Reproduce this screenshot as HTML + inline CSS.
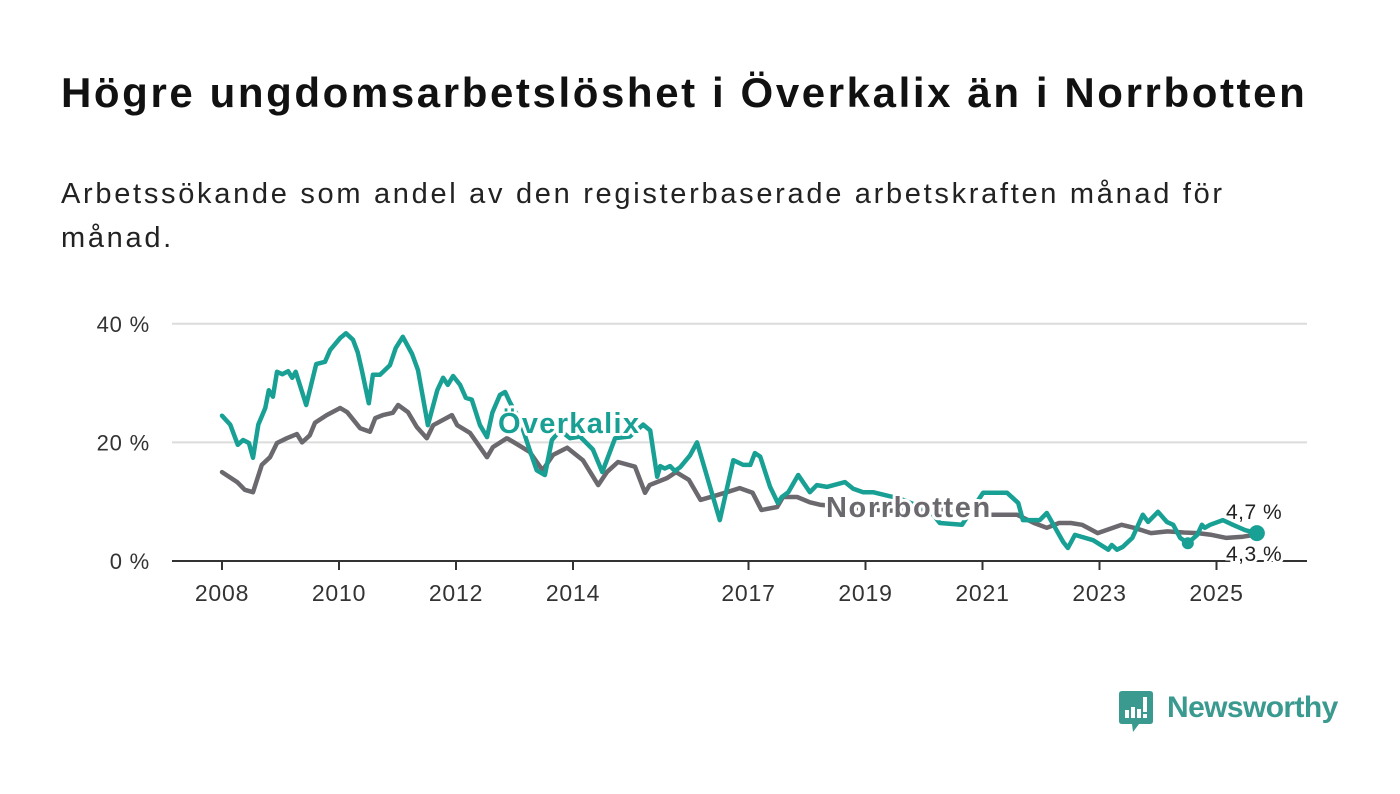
<!DOCTYPE html>
<html><head><meta charset="utf-8">
<style>
body{margin:0;background:#fff;width:1400px;height:794px;overflow:hidden;font-family:"Liberation Sans",sans-serif;}
#title{position:absolute;left:61px;top:69px;font-size:42px;font-weight:bold;color:#111;margin:0;letter-spacing:2.6px;white-space:nowrap}
#sub{position:absolute;left:61px;top:172px;width:1250px;font-size:29px;line-height:44px;color:#222;margin:0;letter-spacing:2.7px}
svg{position:absolute;left:0;top:0}
</style></head>
<body>
<h1 id="title">Högre ungdomsarbetslöshet i Överkalix än i Norrbotten</h1>
<p id="sub">Arbetssökande som andel av den registerbaserade arbetskraften månad för<br>månad.</p>
<svg id="chart" width="1400" height="794"></svg>
<div style="position:absolute;left:1119px;top:691px;">
<svg width="36" height="44" style="position:absolute;left:0;top:0">
<path d="M3 0 H31 Q34 0 34 3 V30 Q34 33 31 33 H20 L14 41 L13 33 H3 Q0 33 0 30 V3 Q0 0 3 0Z" fill="#3a9a90"/>
<rect x="6" y="19" width="4" height="8" fill="#fff"/><rect x="12" y="16" width="4" height="11" fill="#fff"/><rect x="18" y="18" width="4" height="9" fill="#fff"/><rect x="24" y="6" width="4" height="15" fill="#fff"/><rect x="24" y="23" width="4" height="4" fill="#fff"/>
</svg>
<span style="position:absolute;left:48px;top:0px;font-size:30px;color:#3a9a90;font-weight:bold;white-space:nowrap;letter-spacing:-0.6px">Newsworthy</span>
</div>
<script>
const yTicks=[0,20,40];
const xTicks=[2008,2010,2012,2014,2017,2019,2021,2023,2025];
const okDates=[2008.00,2008.14,2008.27,2008.36,2008.46,2008.53,2008.62,2008.74,2008.80,2008.87,2008.94,2009.03,2009.13,2009.20,2009.26,2009.44,2009.61,2009.76,2009.85,2010.02,2010.12,2010.24,2010.32,2010.39,2010.51,2010.58,2010.70,2010.87,2010.97,2011.09,2011.25,2011.35,2011.52,2011.68,2011.78,2011.86,2011.95,2012.07,2012.17,2012.27,2012.41,2012.53,2012.62,2012.75,2012.84,2012.92,2013.09,2013.26,2013.38,2013.52,2013.64,2013.78,2013.95,2014.12,2014.34,2014.50,2014.72,2014.97,2015.20,2015.32,2015.44,2015.49,2015.57,2015.66,2015.74,2015.83,2016.00,2016.12,2016.26,2016.51,2016.74,2016.91,2017.03,2017.11,2017.20,2017.37,2017.50,2017.57,2017.68,2017.85,2018.05,2018.17,2018.34,2018.65,2018.79,2018.96,2019.13,2019.59,2020.10,2020.27,2020.65,2021.01,2021.42,2021.61,2021.69,2021.98,2022.10,2022.38,2022.46,2022.58,2022.89,2023.15,2023.21,2023.30,2023.40,2023.56,2023.74,2023.83,2024.00,2024.15,2024.26,2024.38,2024.51,2024.67,2024.75,2024.80,2024.89,2025.11,2025.28,2025.49,2025.69];
const okVals=[24.5,23,19.6,20.4,19.9,17.4,23,25.8,28.8,27.7,31.9,31.5,32,30.9,31.9,26.3,33.2,33.6,35.6,37.6,38.4,37.3,35.2,32.2,26.6,31.4,31.4,33,35.9,37.8,34.9,32.2,22.9,28.8,30.9,29.7,31.2,29.7,27.5,27.2,22.9,20.9,25,28,28.5,26.8,23.8,18.7,15.3,14.5,20.4,22,20.7,21,18.8,15,20.7,21,23,22,14.2,16,15.6,16,15.2,15.8,17.8,20,15.3,6.9,17,16.2,16.2,18.2,17.6,12.5,9.8,10.8,11.6,14.5,11.6,12.8,12.5,13.3,12.2,11.6,11.6,10.5,8.5,6.4,6.1,11.5,11.5,9.8,6.9,6.9,8.1,3.2,2.2,4.4,3.5,1.9,2.7,1.9,2.4,3.9,7.8,6.6,8.3,6.6,6.1,3.9,3,4.4,6.1,5.6,6.1,6.9,6.1,5.2,4.7];
const nbDates=[2008.00,2008.26,2008.39,2008.53,2008.68,2008.82,2008.94,2009.11,2009.28,2009.37,2009.50,2009.59,2009.79,2010.02,2010.14,2010.36,2010.53,2010.62,2010.75,2010.92,2011.01,2011.18,2011.33,2011.50,2011.61,2011.93,2012.02,2012.24,2012.53,2012.63,2012.87,2013.01,2013.26,2013.48,2013.66,2013.90,2014.17,2014.43,2014.58,2014.77,2015.06,2015.23,2015.31,2015.61,2015.76,2015.98,2016.18,2016.46,2016.63,2016.85,2017.07,2017.22,2017.49,2017.59,2017.83,2018.05,2018.22,2018.74,2019.37,2019.97,2020.35,2020.96,2021.14,2021.59,2021.88,2022.10,2022.31,2022.51,2022.70,2022.97,2023.38,2023.59,2023.88,2024.16,2024.44,2024.68,2024.92,2025.17,2025.45,2025.58];
const nbVals=[15,13.3,12,11.6,16.2,17.5,19.9,20.7,21.4,20,21.2,23.3,24.6,25.8,25.1,22.4,21.8,24.1,24.6,25,26.3,25.1,22.6,20.7,22.9,24.6,22.9,21.6,17.5,19.2,20.7,19.9,18.4,15.3,17.9,19.1,17,12.8,15,16.7,15.9,11.5,12.8,14,15,13.7,10.3,11.1,11.6,12.3,11.5,8.6,9.1,10.8,10.8,9.9,9.5,9,8.5,8.6,8.6,7.8,7.8,7.8,6.4,5.6,6.4,6.4,6.1,4.7,6.1,5.6,4.7,5,4.8,4.7,4.4,3.9,4.1,4.3];
const labels=["4,7 %","4,3 %"];

const svg=document.getElementById('chart');
const NS='http://www.w3.org/2000/svg';
const X0=172,X1=1307;
function xS(t){return 222+(t-2008)*58.5;}
function yS(v){return 561-v*5.93;}
function mk(tag,attrs){const e=document.createElementNS(NS,tag);for(const k in attrs)e.setAttribute(k,attrs[k]);svg.appendChild(e);return e;}

yTicks.forEach(v=>{
  if(v>0){const g=mk('line',{x1:X0,x2:X1,y1:yS(v),y2:yS(v),stroke:'#dcdcdc','stroke-width':2});
  
  }
  const t=mk('text',{x:150,y:yS(v)+8,'text-anchor':'end','font-size':22,fill:'#333','font-family':'Liberation Sans, sans-serif','letter-spacing':'0.8'});
  t.textContent=v+' %';
  
  
});
xTicks.forEach(yr=>{
  const l=mk('line',{x1:xS(yr),x2:xS(yr),y1:561,y2:570,stroke:'#333','stroke-width':2});
  
  
  const t=mk('text',{x:xS(yr),y:601,'text-anchor':'middle','font-size':23,fill:'#333','font-family':'Liberation Sans, sans-serif','letter-spacing':'0.8'});
  t.textContent=yr;
  
  
});
const base=mk('line',{x1:X0,x2:X1,y1:561,y2:561,stroke:'#333','stroke-width':2});



function path(d,v){return d.map((t,i)=>(i?'L':'M')+xS(t).toFixed(1)+' '+yS(v[i]).toFixed(1)).join(' ');}
const nb=mk('path',{d:path(nbDates,nbVals),fill:'none',stroke:'#6b696e','stroke-width':4.5,'stroke-linejoin':'round','stroke-linecap':'round'});


const ok=mk('path',{d:path(okDates,okVals),fill:'none',stroke:'#18a095','stroke-width':4.5,'stroke-linejoin':'round','stroke-linecap':'round'});



const minDot=mk('circle',{cx:xS(2024.51),cy:yS(3),r:6,fill:'#18a095'});


const lastOk=okDates.length-1;
const endDot=mk('circle',{cx:xS(okDates[lastOk]),cy:yS(okVals[lastOk]),r:8,fill:'#18a095'});



function lab(txt,x,y,col,name,size,bold,ls){
  const t=mk('text',{x:x,y:y,'font-size':size,fill:col,'font-weight':bold?'bold':'normal',stroke:'#fff','stroke-width':6,'paint-order':'stroke','stroke-linejoin':'round','font-family':'Liberation Sans, sans-serif','letter-spacing':ls});
  t.textContent=txt;
  
  
}
lab('Överkalix',498,433,'#18a095','overkalix-label',29,true,1.3);
lab('Norrbotten',826,517,'#6b696e','norrbotten-label',29,true,1.6);
lab(labels[0],1226,519,'#222','overkalix-end-value',21,false,0.5);
lab(labels[1],1226,561,'#222','norrbotten-end-value',21,false,0.5);
</script>
</body></html>
